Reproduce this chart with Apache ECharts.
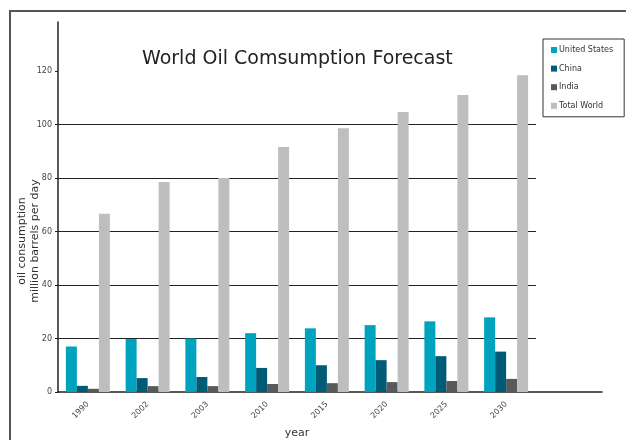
<!DOCTYPE html>
<html>
<head>
<meta charset="utf-8">
<script src="https://cdn.jsdelivr.net/npm/echarts@6/dist/echarts.min.js"></script>
<style>
  html, body { margin: 0; padding: 0; background: #fff; }
  #wrap { position: relative; width: 626px; height: 440px; overflow: hidden; }
  #frame { position: absolute; left: 9px; top: 10px; width: 700px; height: 500px;
           border-left: 2px solid #555; border-top: 2px solid #555; }
  #chart { position: absolute; left: 0; top: 0; width: 626px; height: 440px; }
</style>
</head>
<body>
<div id="wrap">
  <div id="frame"></div>
  <div id="chart"></div>
</div>
<script>
const years = ['1990', '2002', '2003', '2010', '2015', '2020', '2025', '2030'];
const unitedStates = [17.0, 19.8, 20.0, 22.0, 23.8, 25.0, 26.4, 27.9];
const china = [2.3, 5.2, 5.6, 9.0, 10.0, 11.9, 13.4, 15.1];
const india = [1.2, 2.2, 2.2, 3.0, 3.3, 3.7, 4.1, 4.9];
const totalWorld = [66.6, 78.5, 80.0, 91.6, 98.6, 104.7, 111.0, 118.4];
const seriesNames = ['United States', 'China', 'India', 'Total World'];
const seriesColors = ['#00a3be', '#005b77', '#58595b', '#bdbec0'];

const font = '"DejaVu Sans", Verdana, sans-serif';
const chart = echarts.init(document.getElementById('chart'), null, { renderer: 'canvas' });

const seriesData = [unitedStates, china, india, totalWorld];

const option = {
  backgroundColor: 'transparent',
  animation: false,
  title: {
    text: 'World Oil Comsumption Forecast',
    left: 137,
    top: 45,
    textStyle: { fontFamily: font, fontSize: 19, fontWeight: 'normal', color: '#222' }
  },
  legend: {
    orient: 'vertical',
    left: 543,
    top: 39,
    padding: [7, 11, 7, 8],
    itemGap: 10.6,
    itemWidth: 6,
    itemHeight: 6,
    icon: 'rect',
    borderColor: '#333',
    borderWidth: 1,
    data: seriesNames,
    textStyle: { fontFamily: font, fontSize: 8, color: '#333', padding: [0, 0, 0, -3] }
  },
  grid: [
    { left: 58, right: 90, top: 71, bottom: 48, outerBoundsMode: 'none', containLabel: false },
    { left: 58, right: 24, top: 22, bottom: 48, outerBoundsMode: 'none', containLabel: false }
  ],
  xAxis: [
    {
      type: 'category',
      gridIndex: 0,
      data: years,
      name: 'year',
      nameLocation: 'middle',
      nameGap: 33,
      nameTextStyle: { fontFamily: font, fontSize: 11, color: '#333' },
      axisLine: { show: false },
      axisTick: { show: false },
      axisLabel: { rotate: 45, fontFamily: font, fontSize: 8, color: '#444', margin: 11 },
      splitLine: { show: false }
    },
    {
      type: 'value',
      gridIndex: 1,
      axisLine: { show: true, lineStyle: { color: '#222', width: 1.5 } },
      axisTick: { show: false },
      axisLabel: { show: false },
      splitLine: { show: false }
    }
  ],
  yAxis: [
    {
      type: 'value',
      gridIndex: 0,
      min: 0,
      max: 120,
      interval: 20,
      axisLine: { show: false },
      axisTick: { show: true, length: 3, lineStyle: { color: '#222' } },
      axisLabel: { fontFamily: font, fontSize: 8, color: '#444', margin: 6 },
      splitLine: { show: true, showMinLine: false, showMaxLine: false, lineStyle: { color: '#222', width: 1.2 } }
    },
    {
      type: 'value',
      gridIndex: 1,
      min: 0,
      max: 138,
      axisLine: { show: true, lineStyle: { color: '#222', width: 1.5 } },
      axisTick: { show: false },
      axisLabel: { show: false },
      splitLine: { show: false }
    }
  ],
  graphic: [
    {
      type: 'text',
      x: 29,
      y: 241,
      rotation: Math.PI / 2,
      style: {
        text: 'oil consumption\nmillion barrels per day',
        fontFamily: font,
        fontSize: 11,
        lineHeight: 13,
        fill: '#333',
        textAlign: 'center',
        textVerticalAlign: 'middle'
      }
    }
  ],
  series: seriesNames.map((name, i) => ({
    name: name,
    type: 'bar',
    xAxisIndex: 0,
    yAxisIndex: 0,
    data: seriesData[i],
    barWidth: 11,
    barGap: '0%',
    itemStyle: { color: seriesColors[i] }
  }))
};

chart.setOption(option);
</script>
</body>
</html>
